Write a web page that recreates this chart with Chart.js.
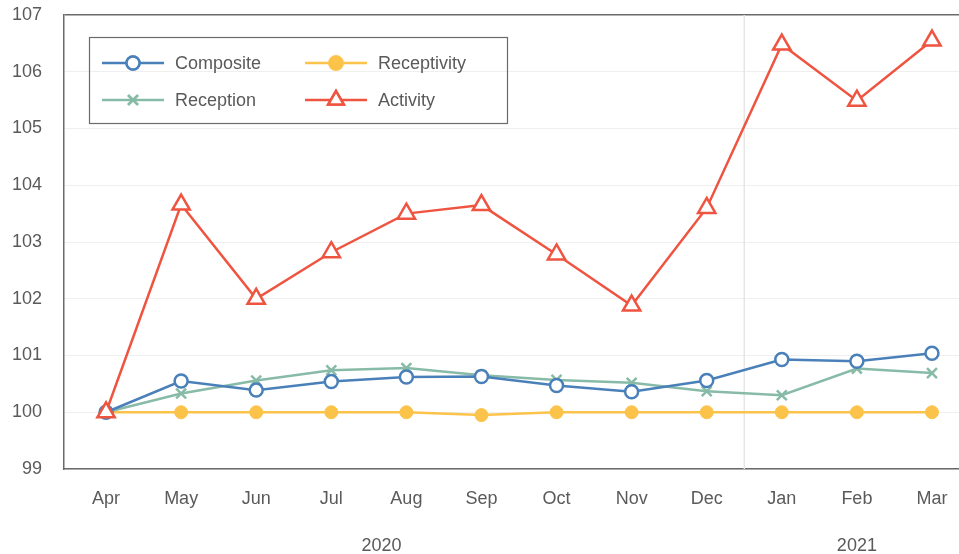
<!DOCTYPE html>
<html>
<head>
<meta charset="utf-8">
<script src="https://cdn.jsdelivr.net/npm/chart.js@4.4.1/dist/chart.umd.min.js"></script>
<style>
  html, body { margin: 0; padding: 0; background: #fff; }
  #wrap { width: 959px; height: 554px; }
</style>
</head>
<body>
<div id="wrap"><canvas id="chart" width="959" height="554"></canvas></div>
<script>
const months = ['Apr', 'May', 'Jun', 'Jul', 'Aug', 'Sep', 'Oct', 'Nov', 'Dec', 'Jan', 'Feb', 'Mar'];
const years = [{ label: '2020', at: 3.67 }, { label: '2021', at: 10 }];
const yTicks = [99, 100, 101, 102, 103, 104, 105, 106, 107];

const composite   = [100, 100.55, 100.39, 100.54, 100.62, 100.63, 100.47, 100.36, 100.56, 100.93, 100.9, 101.04];
const receptivity = [100, 100, 100, 100, 100, 99.95, 100, 100, 100, 100, 100, 100];
const reception   = [100, 100.33, 100.56, 100.74, 100.78, 100.65, 100.57, 100.52, 100.37, 100.3, 100.77, 100.69];
const activity    = [100, 103.66, 102.0, 102.82, 103.5, 103.65, 102.78, 101.88, 103.6, 106.48, 105.49, 106.55];

const FONT = "'Liberation Sans', Arial, sans-serif";
const TEXT = '#5a5a5a';
const FSIZE = 18;

const toPoints = arr => arr.map((v, i) => ({ x: i, y: v }));

// drop the label overflow padding chart.js adds around each axis
const noPad = h => scale => {
  if (h.width) scale.width = h.width;
  if (h.height) scale.height = h.height;
  scale.paddingTop = scale.paddingBottom = scale.paddingLeft = scale.paddingRight = 0;
};

const datasets = [
  {
    label: 'Composite', data: toPoints(composite),
    borderColor: '#4a80b9', backgroundColor: '#4a80b9', borderWidth: 2.5,
    pointStyle: 'circle', pointRadius: 6.5, pointBorderWidth: 2.5,
    pointBackgroundColor: '#fff', pointBorderColor: '#4a80b9', order: 2
  },
  {
    label: 'Receptivity', data: toPoints(receptivity),
    borderColor: '#fcc34a', backgroundColor: '#fcc34a', borderWidth: 2.5,
    pointStyle: 'circle', pointRadius: 6.5, pointBorderWidth: 1,
    pointBackgroundColor: '#fcc34a', pointBorderColor: '#fcc34a', order: 4
  },
  {
    label: 'Reception', data: toPoints(reception),
    borderColor: '#88bba7', backgroundColor: '#88bba7', borderWidth: 2.5,
    pointStyle: 'crossRot', pointRadius: 7, pointBorderWidth: 2.5,
    pointBackgroundColor: '#88bba7', pointBorderColor: '#88bba7', order: 3
  },
  {
    label: 'Activity', data: toPoints(activity),
    borderColor: '#ef5441', backgroundColor: '#ef5441', borderWidth: 2.5,
    pointStyle: 'triangle', pointRadius: 10, pointBorderWidth: 2.5,
    pointBackgroundColor: '#fff', pointBorderColor: '#ef5441', order: 1
  }
];

// light divider between Dec and Jan
const dividerPlugin = {
  id: 'divider',
  beforeDatasetsDraw(chart) {
    const { ctx, chartArea, scales } = chart;
    const x = scales.x.getPixelForValue(8.5);
    ctx.save();
    ctx.strokeStyle = '#e6e6e6';
    ctx.lineWidth = 1.5;
    ctx.beginPath();
    ctx.moveTo(x, chartArea.top);
    ctx.lineTo(x, chartArea.bottom);
    ctx.stroke();
    ctx.restore();
  }
};

// boxed legend inside the plot, two columns
const boxLegend = {
  id: 'boxLegend',
  afterDraw(chart) {
    const { ctx } = chart;
    ctx.save();
    ctx.strokeStyle = '#6a6a6a';
    ctx.lineWidth = 1.2;
    ctx.strokeRect(89.5, 37.5, 418, 86);
    const slots = [
      { ds: 0, x: 102, y: 63 },
      { ds: 1, x: 305, y: 63 },
      { ds: 2, x: 102, y: 100 },
      { ds: 3, x: 305, y: 100 }
    ];
    slots.forEach(s => {
      const d = chart.data.datasets[s.ds];
      ctx.strokeStyle = d.borderColor;
      ctx.lineWidth = d.borderWidth;
      ctx.beginPath();
      ctx.moveTo(s.x, s.y);
      ctx.lineTo(s.x + 62, s.y);
      ctx.stroke();
      Chart.helpers.drawPoint(ctx, {
        pointStyle: d.pointStyle,
        radius: d.label === 'Activity' ? 9 : d.pointRadius,
        borderWidth: d.pointBorderWidth,
        rotation: 0
      }, s.x + 31, s.y);
      ctx.fillStyle = d.pointBackgroundColor;
      ctx.strokeStyle = d.pointBorderColor;
      ctx.fill();
      ctx.stroke();
      ctx.fillStyle = TEXT;
      ctx.font = FSIZE + 'px ' + FONT;
      ctx.textBaseline = 'middle';
      ctx.textAlign = 'left';
      ctx.fillText(d.label, s.x + 73, s.y + 1);
    });
    ctx.restore();
  }
};

new Chart(document.getElementById('chart'), {
  type: 'line',
  data: { datasets },
  plugins: [dividerPlugin, boxLegend],
  options: {
    responsive: false,
    animation: false,
    layout: { autoPadding: false, padding: { top: 15, right: 0, bottom: 0, left: 0 } },
    plugins: { legend: { display: false }, tooltip: { enabled: false } },
    scales: {
      x: {
        type: 'linear',
        position: 'bottom',
        min: -0.56,
        max: 11.36,
        bounds: 'data',
        weight: 0,
        afterBuildTicks: scale => { scale.ticks = months.map((m, i) => ({ value: i })); },
        afterFit: noPad({ height: 50 }),
        grid: { display: false, drawTicks: false },
        border: { display: true, color: '#6a6a6a', width: 1.5 },
        ticks: {
          autoSkip: false, maxRotation: 0, padding: 19,
          color: TEXT, font: { family: FONT, size: FSIZE },
          callback: v => months[v]
        }
      },
      x2: {
        type: 'linear',
        position: 'bottom',
        min: -0.56,
        max: 11.36,
        bounds: 'data',
        weight: 1,
        afterBuildTicks: scale => { scale.ticks = years.map(y => ({ value: y.at })); },
        afterFit: noPad({ height: 35 }),
        grid: { display: false, drawTicks: false },
        border: { display: false },
        ticks: {
          autoSkip: false, maxRotation: 0, padding: 16,
          color: TEXT, font: { family: FONT, size: FSIZE },
          callback: (v, i) => years[i] ? years[i].label : ''
        }
      },
      y: {
        min: 99,
        max: 107,
        afterBuildTicks: scale => { scale.ticks = yTicks.map(v => ({ value: v })); },
        afterFit: noPad({ width: 64 }),
        grid: {
          drawTicks: false,
          lineWidth: ctx => ctx.tick && ctx.tick.value === 107 ? 1.5 : 1,
          color: ctx => ctx.tick && ctx.tick.value === 107 ? '#6a6a6a' : '#efefef'
        },
        border: { display: true, color: '#6a6a6a', width: 1.5 },
        ticks: {
          padding: 22,
          color: TEXT, font: { family: FONT, size: FSIZE }
        }
      }
    }
  }
});
</script>
</body>
</html>
